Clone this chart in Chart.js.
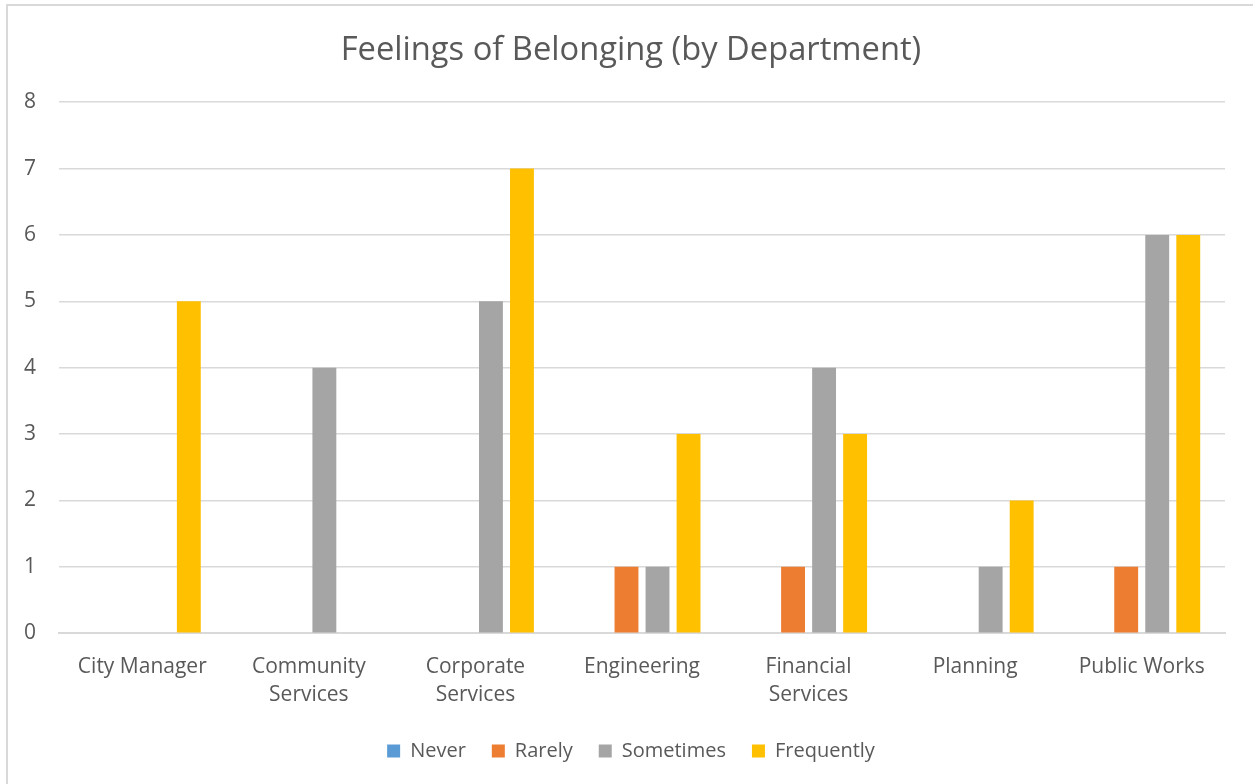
<!DOCTYPE html>
<html>
<head>
<meta charset="utf-8">
<script src="https://cdn.jsdelivr.net/npm/chart.js@4/dist/chart.umd.min.js"></script>
<style>
  body { margin: 0; background: #fff; overflow: hidden; }
  #marco { position: absolute; left: 6px; top: 4px; width: 1260px; height: 800px; border: 2px solid #d9d9d9; }
  #lienzo { position: absolute; left: 0; top: 0; }
</style>
</head>
<body>
<div id="marco"></div>
<canvas id="lienzo" width="1253" height="784"></canvas>
<script>
const departamentos = ['City Manager', ['Community', 'Services'], ['Corporate', 'Services'], 'Engineering', ['Financial', 'Services'], 'Planning', 'Public Works'];
const nunca = [0, 0, 0, 0, 0, 0, 0];
const raramente = [0, 0, 0, 1, 1, 0, 1];
const aveces = [0, 4, 5, 1, 4, 1, 6];
const frecuente = [5, 0, 7, 3, 3, 2, 6];
const marcas_y = [0, 1, 2, 3, 4, 5, 6, 7, 8];

const fuente = 'Open Sans, sans-serif';
const gris_texto = '#595959';

function serie(nombre, datos, color) {
    return {
        label: nombre,
        data: datos,
        backgroundColor: color,
        borderWidth: 0,
        categoryPercentage: 0.745,
        barPercentage: 0.77
    };
}

const config = {
    type: 'bar',
    data: {
        labels: departamentos,
        datasets: [
            serie('Never', nunca, '#5B9BD5'),
            serie('Rarely', raramente, '#ED7D31'),
            serie('Sometimes', aveces, '#A5A5A5'),
            serie('Frequently', frecuente, '#FFC000')
        ]
    },
    options: {
        responsive: false,
        animation: false,
        layout: { padding: { left: 37, right: 28, top: 10, bottom: 13 } },
        plugins: {
            title: {
                display: true,
                text: 'Feelings of Belonging (by Department)',
                color: gris_texto,
                font: { family: fuente, size: 32.7, weight: 'normal', lineHeight: 1.2 },
                padding: { top: 21, bottom: 32 }
            },
            legend: {
                position: 'bottom',
                labels: {
                    color: gris_texto,
                    font: { family: fuente, size: 20 },
                    boxWidth: 13,
                    boxHeight: 13,
                    padding: 26
                }
            },
            tooltip: { enabled: false }
        },
        scales: {
            x: {
                grid: { display: false, drawTicks: false },
                border: { color: '#d9d9d9', width: 2 },
                ticks: {
                    color: gris_texto,
                    font: { family: fuente, size: 21, lineHeight: 1.33 },
                    maxRotation: 0,
                    padding: 20
                },
                afterFit: eje => { eje.height -= 14; }
            },
            y: {
                min: 0,
                max: 8,
                afterBuildTicks: eje => { eje.ticks = marcas_y.map(v => ({ value: v })); },
                afterFit: eje => { eje.width = 22; },
                grid: { color: '#d9d9d9', lineWidth: 1.5, drawTicks: false },
                border: { display: false },
                ticks: {
                    color: gris_texto,
                    font: { family: fuente, size: 21 },
                    mirror: true,
                    padding: -35
                }
            }
        }
    }
};

new Chart(document.getElementById('lienzo'), config);
</script>
</body>
</html>
